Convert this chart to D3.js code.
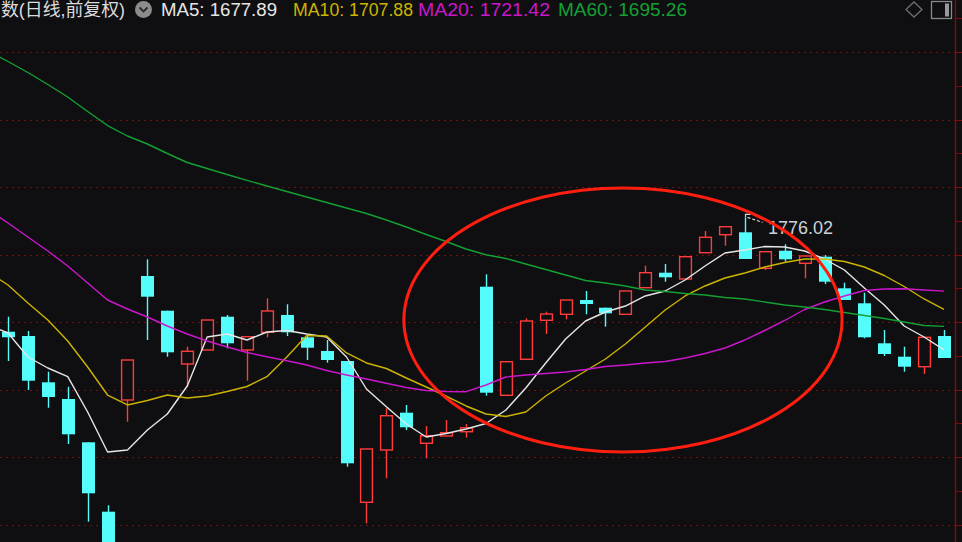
<!DOCTYPE html>
<html>
<head>
<meta charset="utf-8">
<script src="https://cdn.jsdelivr.net/npm/d3@7"></script>
<style>
  html, body { margin: 0; padding: 0; background: #0f0f12; overflow: hidden; }
  svg { display: block; }
</style>
</head>
<body>
<svg id="chart" width="962" height="542"></svg>
<script>
// ---------- DATA ----------
const opens  = [1691.33, 1688.15, 1653.85, 1641.48, 1609.41, 1558.00, 1640.74, 1732.59, 1706.89, 1667.41, 1677.78, 1702.44, 1677.78, 1690.89, 1703.70, 1687.19, 1677.04, 1669.63, 1564.97, 1603.71, 1631.34, 1608.67, 1614.08, 1617.26, 1724.67, 1644.22, 1670.89, 1699.78, 1704.22, 1714.81, 1709.11, 1704.22, 1723.93, 1735.04, 1730.37, 1749.85, 1763.18, 1764.96, 1738.29, 1751.33, 1742.00, 1746.89, 1723.48, 1712.37, 1682.74, 1672.82, 1665.41, 1688.15];
const highs  = [1702.44, 1691.85, 1661.70, 1650.59, 1609.41, 1562.74, 1670.37, 1744.96, 1706.89, 1680.22, 1700.00, 1703.70, 1687.63, 1716.07, 1711.63, 1688.89, 1685.19, 1669.63, 1604.45, 1634.59, 1637.04, 1621.49, 1625.93, 1622.97, 1733.85, 1669.11, 1701.26, 1706.15, 1714.81, 1721.48, 1709.11, 1721.48, 1740.22, 1741.48, 1746.89, 1765.92, 1769.11, 1776.02, 1750.59, 1756.07, 1747.41, 1748.15, 1727.63, 1720.22, 1692.59, 1680.22, 1687.19, 1692.59];
const lows   = [1669.63, 1648.15, 1635.04, 1608.15, 1550.59, 1519.00, 1624.67, 1685.19, 1672.82, 1650.59, 1677.78, 1679.04, 1655.04, 1687.19, 1688.15, 1670.37, 1668.37, 1591.34, 1549.41, 1582.75, 1618.52, 1597.56, 1614.08, 1612.82, 1643.93, 1644.22, 1670.89, 1689.63, 1700.52, 1704.22, 1695.04, 1704.22, 1723.93, 1728.37, 1730.37, 1749.85, 1755.03, 1745.18, 1737.04, 1743.18, 1730.89, 1726.67, 1714.81, 1686.45, 1673.33, 1661.71, 1660.00, 1671.85];
const closes = [1687.19, 1655.04, 1642.96, 1615.33, 1571.63, 1527.00, 1670.37, 1717.26, 1676.07, 1676.82, 1700.00, 1682.74, 1687.63, 1706.67, 1690.89, 1679.48, 1670.37, 1593.86, 1604.45, 1629.11, 1620.52, 1614.30, 1616.52, 1620.22, 1646.15, 1669.11, 1699.26, 1704.44, 1714.81, 1711.85, 1704.96, 1721.48, 1735.04, 1731.63, 1746.89, 1761.26, 1769.11, 1745.18, 1750.59, 1744.96, 1747.41, 1728.37, 1714.81, 1687.19, 1674.82, 1665.41, 1687.19, 1671.85];

// moving averages: first value belongs to the bar just before the first visible bar (index -1)
const maStart = -1;
const ma5  = [1696.30, 1690.37, 1672.59, 1664.44, 1658.00, 1631.85, 1602.22, 1603.71, 1618.52, 1630.37, 1651.11, 1687.41, 1689.63, 1685.19, 1691.11, 1692.22, 1689.63, 1687.41, 1672.59, 1648.89, 1635.78, 1622.96, 1613.33, 1615.93, 1619.26, 1623.33, 1633.33, 1649.63, 1668.15, 1685.93, 1699.26, 1705.93, 1710.37, 1717.78, 1721.48, 1729.63, 1740.00, 1749.63, 1751.85, 1754.44, 1754.07, 1751.11, 1745.19, 1737.04, 1723.70, 1711.11, 1695.56, 1687.41, 1677.89];
const ma10 = [1735.56, 1725.93, 1712.59, 1700.00, 1684.44, 1665.19, 1644.44, 1637.04, 1640.37, 1644.44, 1642.22, 1643.70, 1647.04, 1650.74, 1658.00, 1672.59, 1688.52, 1688.15, 1675.56, 1668.15, 1664.07, 1657.04, 1650.37, 1643.70, 1636.30, 1630.37, 1628.52, 1631.85, 1643.70, 1653.33, 1662.22, 1671.11, 1682.22, 1694.81, 1707.41, 1717.78, 1725.19, 1731.11, 1734.81, 1739.26, 1742.59, 1745.19, 1745.19, 1743.33, 1739.26, 1732.96, 1724.81, 1715.56, 1707.88];
const ma20 = [1781.85, 1771.85, 1761.48, 1751.11, 1740.00, 1727.41, 1714.81, 1708.15, 1702.22, 1695.56, 1689.63, 1684.44, 1680.00, 1675.93, 1672.82, 1669.85, 1666.67, 1662.59, 1659.26, 1656.30, 1653.11, 1650.00, 1647.78, 1647.04, 1646.89, 1651.85, 1657.78, 1659.26, 1660.37, 1661.48, 1663.33, 1665.56, 1666.67, 1668.15, 1669.26, 1671.85, 1675.19, 1679.26, 1685.19, 1692.22, 1699.63, 1707.78, 1713.33, 1717.78, 1721.85, 1722.96, 1723.19, 1722.22, 1721.42];
const ma60 = [1899.26, 1891.48, 1883.33, 1874.44, 1865.19, 1854.44, 1844.07, 1836.30, 1830.37, 1823.33, 1816.67, 1812.22, 1807.78, 1803.48, 1799.26, 1795.19, 1791.11, 1787.04, 1782.96, 1778.89, 1774.07, 1768.89, 1763.33, 1758.15, 1752.59, 1748.30, 1745.56, 1741.48, 1737.41, 1733.33, 1729.26, 1727.41, 1725.19, 1722.22, 1721.11, 1719.63, 1718.52, 1716.67, 1715.56, 1713.33, 1711.11, 1709.63, 1707.78, 1705.56, 1703.33, 1701.11, 1698.52, 1695.93, 1695.26];

const gridPrices = [1898.5, 1848.5, 1798.5, 1748.5, 1698.5, 1648.5, 1598.5, 1548.5];
const titleText = "数(日线,前复权)";
const maNames = ["MA5", "MA10", "MA20", "MA60"];
const maValues = ["1677.89", "1707.88", "1721.42", "1695.26"];
const highLabel = "1776.02";
const highIndex = 37;
// highlight ellipse (in data units: bar index / price)
const ellipseCenter = [30.88, 1700];
const ellipseRadius = [11.0, 97.8];

// ---------- LAYOUT ----------
const W = 962, H = 542;
const svg = d3.select("#chart");
const font = "'Liberation Sans', Arial, 'Noto Sans CJK SC', sans-serif";

const x = d3.scaleLinear().domain([0, opens.length - 1]).range([8, 944]);
const y = d3.scaleLinear().domain([1700, 1800]).range([320, 185]);
const bodyW = 13;

const colUp = "#ff3c3c", colDown = "#54fcfc";
const maColors = ["#e6e6e6", "#cdb400", "#cc16cc", "#14a033"];

svg.append("rect").attr("width", W).attr("height", H).attr("fill", "#0f0f12");

// grid
svg.append("g").selectAll("line").data(gridPrices).join("line")
  .attr("x1", 0).attr("x2", 955)
  .attr("y1", d => Math.round(y(d)) + 0.5).attr("y2", d => Math.round(y(d)) + 0.5)
  .attr("stroke", "#6e1212").attr("stroke-width", 1).attr("stroke-dasharray", "2,4");

// right axis line + ticks
const axisX = 955.5;
svg.append("line").attr("x1", axisX).attr("x2", axisX).attr("y1", 0).attr("y2", H)
  .attr("stroke", "#7a0d0d").attr("stroke-width", 1.5);
const tickPrices = d3.range(1548.5, 1925, 25);
svg.append("g").selectAll("line").data(tickPrices).join("line")
  .attr("x1", axisX).attr("x2", W)
  .attr("y1", d => Math.round(y(d)) + 0.5).attr("y2", d => Math.round(y(d)) + 0.5)
  .attr("stroke", "#7a0d0d").attr("stroke-width", 1);

// candles
const idx = d3.range(opens.length);
const cg = svg.append("g");
idx.forEach(i => {
  const o = opens[i], c = closes[i], h = highs[i], l = lows[i];
  const up = c >= o;
  const cx = Math.round(x(i)) + 0.5;
  const top = y(Math.max(o, c)), bot = y(Math.min(o, c));
  const col = up ? colUp : colDown;
  if (up) {
    cg.append("line").attr("x1", cx).attr("x2", cx).attr("y1", y(h)).attr("y2", top)
      .attr("stroke", col).attr("stroke-width", 1.4);
    cg.append("line").attr("x1", cx).attr("x2", cx).attr("y1", bot).attr("y2", y(l))
      .attr("stroke", col).attr("stroke-width", 1.4);
    cg.append("rect").attr("x", cx - bodyW / 2 + 0.6).attr("y", top)
      .attr("width", bodyW - 1.2).attr("height", Math.max(bot - top, 1.5))
      .attr("fill", "#0f0f12").attr("stroke", col).attr("stroke-width", 1.4);
  } else {
    cg.append("line").attr("x1", cx).attr("x2", cx).attr("y1", y(h)).attr("y2", y(l))
      .attr("stroke", col).attr("stroke-width", 1.4);
    cg.append("rect").attr("x", cx - bodyW / 2).attr("y", top)
      .attr("width", bodyW).attr("height", Math.max(bot - top, 1.5))
      .attr("fill", col);
  }
});

// moving average lines
const line = d3.line().x((d, i) => x(i + maStart)).y(d => y(d));
[ma5, ma10, ma20, ma60].forEach((arr, k) => {
  svg.append("path").attr("d", line(arr)).attr("fill", "none")
    .attr("stroke", maColors[k]).attr("stroke-width", 1.4).attr("stroke-linejoin", "round");
});

// high marker
const hx = Math.round(x(highIndex)) + 0.5, hy = y(highs[highIndex]);
svg.append("path").attr("d", `M${hx},${hy} V${hy - 3} h5`)
  .attr("fill", "none").attr("stroke", "#d8d8d8").attr("stroke-width", 1.2);
svg.append("line").attr("x1", hx + 2).attr("y1", hy).attr("x2", hx + 17).attr("y2", hy + 5)
  .attr("stroke", "#d8d8d8").attr("stroke-width", 1.2).attr("stroke-dasharray", "3,2");
svg.append("text").attr("x", hx + 22.5).attr("y", hy + 16.5)
  .attr("fill", "#c9d3dc").attr("font-family", font).attr("font-size", 18)
  .text(highLabel);

// red ellipse annotation
svg.append("ellipse")
  .attr("cx", x(ellipseCenter[0])).attr("cy", y(ellipseCenter[1]))
  .attr("rx", x(ellipseRadius[0]) - x(0)).attr("ry", y(ellipseCenter[1]) - y(ellipseCenter[1] + ellipseRadius[1]))
  .attr("fill", "none").attr("stroke", "#ff1e0f").attr("stroke-width", 3);

// ---------- HEADER ----------
const hdr = svg.append("g").attr("font-family", font).attr("font-size", 18);
hdr.append("text").attr("x", 1).attr("y", 16)
  .attr("textLength", 124).attr("lengthAdjust", "spacingAndGlyphs")
  .attr("fill", "#dcdcdc").text(titleText);
// round dropdown icon
hdr.append("circle").attr("cx", 143.5).attr("cy", 9.5).attr("r", 8.5).attr("fill", "#8c8c8c");
hdr.append("path").attr("d", "M139.5,7.5 L143.5,11.5 L147.5,7.5").attr("fill", "none")
  .attr("stroke", "#2a2a2a").attr("stroke-width", 1.8);
const labelX = [161, 293, 418, 558];
const labelW = [116, 120, 132, 129];
maNames.forEach((n, k) => {
  hdr.append("text").attr("x", labelX[k]).attr("y", 16).attr("fill", maColors[k])
    .attr("textLength", labelW[k]).attr("lengthAdjust", "spacingAndGlyphs")
    .text(`${n}: ${maValues[k]}`);
});
// right-side icons
svg.append("path").attr("d", "M914,2 L922,9.5 L914,17 L906,9.5 Z").attr("fill", "none")
  .attr("stroke", "#6e6e6e").attr("stroke-width", 1.3);
svg.append("rect").attr("x", 931.5).attr("y", 1.5).attr("width", 20).attr("height", 17)
  .attr("fill", "none").attr("stroke", "#8a8a8a").attr("stroke-width", 1.3);
svg.append("rect").attr("x", 945).attr("y", 3.5).attr("width", 4).attr("height", 13).attr("fill", "#9a9a9a");
</script>
</body>
</html>
